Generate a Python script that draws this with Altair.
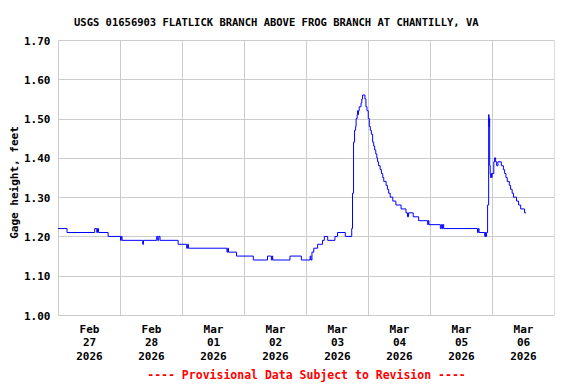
import altair as alt
import pandas as pd

# hours since 2026-02-27 00:00 and gage height (ft), step series
hours = [0, 3.5, 14.2, 15.0, 15.3, 15.7, 19.4, 24.2, 24.5, 24.8, 32.8, 33.1,
         38.2, 38.6, 39.0, 39.5, 46.5, 49.8, 50.2, 50.5, 65.4, 65.7, 66.0, 69.1,
         75.6, 81.1, 82.6, 82.9, 83.1, 89.8, 94.2, 97.6, 97.9, 98.3, 99.0, 100.5,
         102.4, 103.1, 104.4, 107.2, 108.2, 111.2, 113.7, 114.0, 114.4, 114.8,
         115.2, 115.4, 115.8, 116.0, 116.1, 116.3, 116.6, 117.3, 117.6, 117.9,
         118.8, 119.2, 119.6, 120.1, 120.5, 120.9, 121.3, 121.8, 122.2, 122.6,
         123.0, 123.4, 123.7, 124.1, 124.7, 125.2, 125.7, 126.1, 127.0, 127.5,
         128.0, 128.6, 129.6, 130.8, 132.8, 134.7, 135.3, 135.7, 137.5, 139.6,
         143.1, 143.3, 143.6, 148.0, 148.4, 148.8, 149.0, 149.3, 162.4, 162.7,
         163.0, 165.2, 165.4, 165.6, 165.9, 166.3, 166.7, 166.85, 167.0, 167.1,
         167.3, 167.5, 167.7, 167.9, 168.0, 168.7, 169.0, 169.4, 169.8, 170.3,
         171.6, 172.4, 172.9, 173.4, 173.9, 174.7, 175.2, 175.8, 176.3, 177.5,
         178.3, 179.1, 180.6, 181.2]
gage = [1.22, 1.21, 1.22, 1.21, 1.22, 1.21, 1.20, 1.19, 1.20, 1.19, 1.18, 1.19,
        1.20, 1.19, 1.20, 1.19, 1.18, 1.17, 1.18, 1.17, 1.16, 1.17, 1.16, 1.15,
        1.14, 1.15, 1.14, 1.15, 1.14, 1.15, 1.14, 1.15, 1.14, 1.16, 1.17, 1.18,
        1.19, 1.20, 1.19, 1.20, 1.21, 1.20, 1.22, 1.31, 1.44, 1.47,
        1.48, 1.50, 1.51, 1.52, 1.51, 1.52, 1.53, 1.54, 1.55, 1.56,
        1.55, 1.53, 1.52, 1.50, 1.48, 1.47, 1.46, 1.44, 1.43, 1.42,
        1.41, 1.40, 1.39, 1.38, 1.37, 1.36, 1.35, 1.34, 1.33, 1.32,
        1.31, 1.30, 1.29, 1.28, 1.27, 1.26, 1.25, 1.26, 1.25, 1.24,
        1.23, 1.24, 1.23, 1.22, 1.23, 1.22, 1.23, 1.22, 1.21, 1.22,
        1.21, 1.20, 1.21, 1.20, 1.21, 1.28, 1.51, 1.48, 1.50, 1.38,
        1.36, 1.35, 1.36, 1.35, 1.36, 1.39, 1.40, 1.39, 1.38, 1.39,
        1.38, 1.37, 1.36, 1.35, 1.34, 1.33, 1.32, 1.31, 1.30, 1.29,
        1.28, 1.27, 1.26, 1.26]

y_ticks = [1.00, 1.10, 1.20, 1.30, 1.40, 1.50, 1.60, 1.70]
day_ticks = [(2, 27), (2, 28), (3, 1), (3, 2), (3, 3), (3, 4), (3, 5), (3, 6)]
x_start = (2, 27)
x_end = (3, 7)

start = pd.Timestamp("2026-02-27T00:00:00")
times = [(start + pd.Timedelta(hours=h)).strftime("%Y-%m-%dT%H:%M:%SZ") for h in hours]
df = pd.DataFrame({"time": times, "gage": gage})

FONT = "DejaVu Sans Mono"

def dt(md):
    return alt.DateTime(year=2026, month=md[0], date=md[1], utc=True)

chart = alt.Chart(df).mark_line(
    interpolate="step-after", color="#0000FF", strokeWidth=1
).encode(
    x=alt.X("time:T",
            scale=alt.Scale(type="utc", domain=[dt(x_start), dt(x_end)]),
            axis=alt.Axis(
                values=[dt(d) for d in day_ticks],
                labelExpr="[utcFormat(datum.value, '%b'), utcFormat(datum.value, '%d'), utcFormat(datum.value, '%Y')]",
                labelOffset=31, labelOverlap=False, labelAlign="center",
                labelBaseline="top", labelLineHeight=13.5,
                labelFont=FONT, labelFontSize=11, labelFontWeight="bold", labelColor="black",
                labelPadding=8, ticks=False, tickSize=0, domain=False,
                grid=True, gridColor="#CCCCCC", gridWidth=1,
                title="---- Provisional Data Subject to Revision ----",
                titleFont=FONT, titleFontSize=11.5, titleFontWeight="bold",
                titleColor="#FF0000", titlePadding=8,
            )),
    y=alt.Y("gage:Q",
            scale=alt.Scale(domain=[1.0, 1.7], nice=False, zero=False),
            axis=alt.Axis(
                values=y_ticks, format=".2f",
                labelFont=FONT, labelFontSize=11, labelFontWeight="bold", labelColor="black",
                labelPadding=8, labelOffset=1, ticks=False, tickSize=0, domain=False,
                grid=True, gridColor="#CCCCCC", gridWidth=1,
                title="Gage height, feet", titleFont=FONT, titleFontSize=11,
                titleFontWeight="bold", titleColor="black",
                titleX=-41, titleY=142, titleAngle=-90, titleAlign="center",
                titleBaseline="alphabetic",
            )),
).properties(
    width=496, height=275,
    title=alt.TitleParams(
        text="USGS 01656903 FLATLICK BRANCH ABOVE FROG BRANCH AT CHANTILLY, VA",
        font=FONT, fontSize=10.5, fontWeight="bold", color="black",
        anchor="start", frame="group", dx=16, dy=17, offset=16, baseline="alphabetic",
    ),
    autosize=alt.AutoSizeParams(type="none"),
    padding={"left": 50, "top": 32, "right": 14, "bottom": 67},
).configure_view(
    stroke="black", strokeWidth=1
).configure(background="white")

chart.save("out.html", embed_options={"renderer": "svg", "actions": False})
